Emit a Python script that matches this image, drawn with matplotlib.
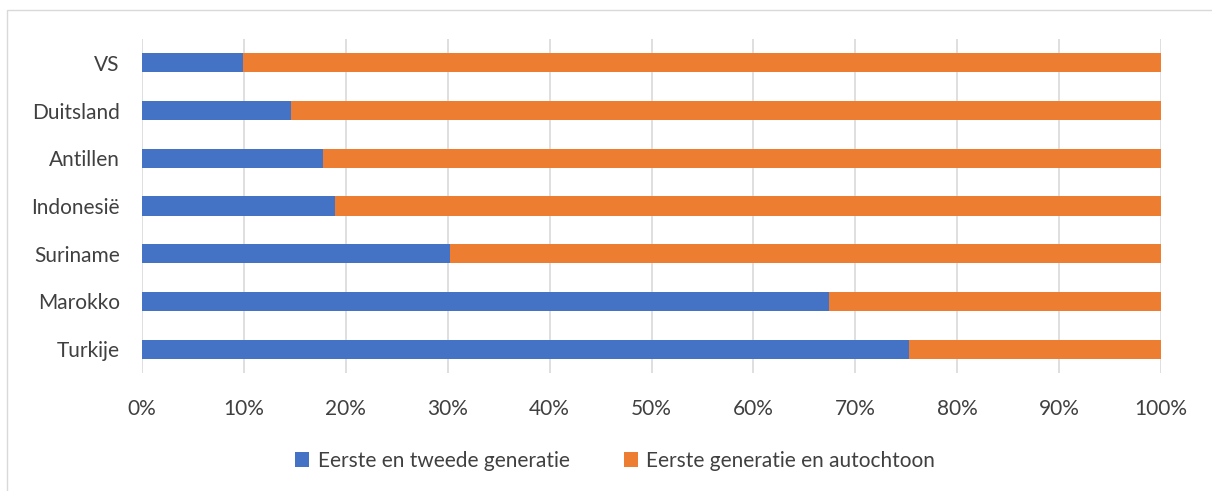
import matplotlib
matplotlib.use("Agg")
import matplotlib.pyplot as plt
from matplotlib.patches import Rectangle

categories = ["Turkije", "Marokko", "Suriname", "Indonesië", "Antillen", "Duitsland", "VS"]
eerste_tweede = [75.3, 67.4, 30.2, 18.9, 17.8, 14.6, 9.9]
autochtoon = [100 - v for v in eerste_tweede]
series_names = ["Eerste en tweede generatie", "Eerste generatie en autochtoon"]
xticks = [0, 10, 20, 30, 40, 50, 60, 70, 80, 90, 100]

plt.rcParams['font.family'] = ['Lato', 'DejaVu Sans']
W, H = 1212, 491
fig = plt.figure(figsize=(W / 100, H / 100), dpi=100)
ax = fig.add_axes([142 / W, 1 - 373 / H, (1161 - 142) / W, (373 - 39) / H])

blue = "#4472C4"
orange = "#ED7D31"
y = range(len(categories))
ax.barh(y, eerste_tweede, height=0.4, color=blue, label=series_names[0], zorder=3)
ax.barh(y, autochtoon, left=eerste_tweede, height=0.4, color=orange, label=series_names[1], zorder=3)

fs = 15
ax.set_xlim(0, 100)
ax.set_ylim(-0.5, len(categories) - 0.5)
ax.set_yticks(list(y))
ax.set_yticklabels(categories, fontsize=fs, color="#404040")
ax.set_xticks(xticks)
ax.set_xticklabels([f"{t}%" for t in xticks], fontsize=fs, color="#404040")
ax.tick_params(axis='both', length=0)
ax.tick_params(axis='y', pad=16)
ax.tick_params(axis='x', pad=19)
ax.grid(axis='x', color="#D9D9D9", linewidth=1.2, zorder=0)
for s in ax.spines.values():
    s.set_visible(False)

fig.legend(loc='center', bbox_to_anchor=(615 / W, 1 - 461 / H), ncol=2, frameon=False,
           fontsize=fs, handlelength=0.7, handleheight=0.7, columnspacing=2.6,
           handletextpad=0.4, labelcolor="#404040")

fig.patches.append(Rectangle((7 / W, -0.1), 1.2, 1 - 10 / H + 0.1, transform=fig.transFigure,
                             fill=False, edgecolor="#D9D9D9", linewidth=1))

fig.savefig("out.png", dpi=100)
